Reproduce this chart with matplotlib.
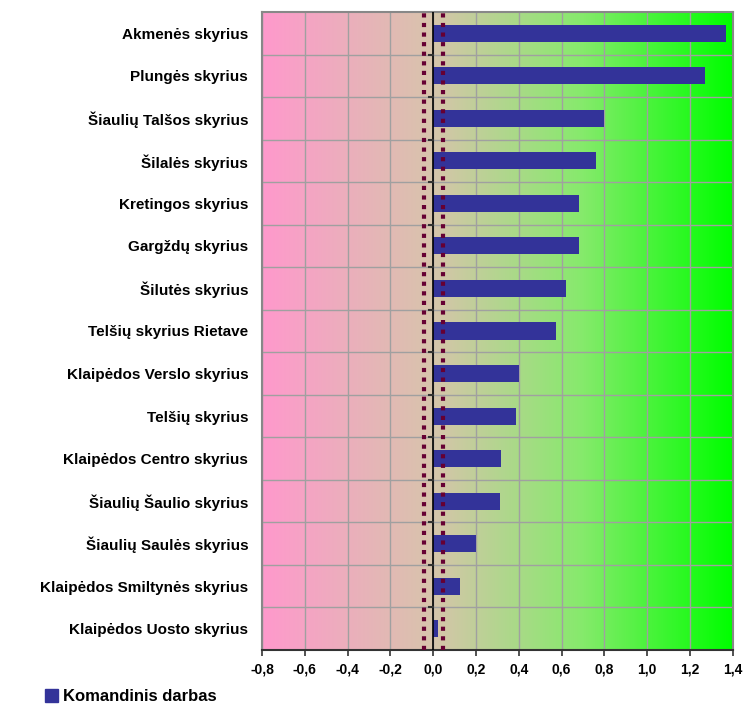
import numpy as np
import matplotlib.pyplot as plt
from matplotlib.colors import LinearSegmentedColormap
from matplotlib.patches import Patch

plt.rcParams['font.family'] = ['Liberation Sans', 'DejaVu Sans']

# Skyriai (iš viršaus į apačią) ir jų rodikliai
skyriai = [
    "Akmenės skyrius",
    "Plungės skyrius",
    "Šiaulių Talšos skyrius",
    "Šilalės skyrius",
    "Kretingos skyrius",
    "Gargždų skyrius",
    "Šilutės skyrius",
    "Telšių skyrius Rietave",
    "Klaipėdos Verslo skyrius",
    "Telšių skyrius",
    "Klaipėdos Centro skyrius",
    "Šiaulių Šaulio skyrius",
    "Šiaulių Saulės skyrius",
    "Klaipėdos Smiltynės skyrius",
    "Klaipėdos Uosto skyrius",
]
komandinis = [1.37, 1.27, 0.80, 0.76, 0.68, 0.68, 0.62, 0.575,
              0.40, 0.385, 0.315, 0.31, 0.20, 0.125, 0.02]
ribos = [-0.045, 0.045]
x_ticks = [-0.8, -0.6, -0.4, -0.2, 0.0, 0.2, 0.4, 0.6, 0.8, 1.0, 1.2, 1.4]
x_zymes = ["-0,8", "-0,6", "-0,4", "-0,2", "0,0", "0,2", "0,4", "0,6",
           "0,8", "1,0", "1,2", "1,4"]

fig = plt.figure(figsize=(7.45, 7.05), dpi=100)
ax = fig.add_axes([0.3517, 0.078, 0.632, 0.905])

n = len(skyriai)
y = np.arange(n)[::-1]

# fonas - gradientas nuo rožinės iki žalios
cmap = LinearSegmentedColormap.from_list(
    "fonas", [(0.0, "#ff99cc"), (0.36, "#d8c4ac"), (0.68, "#86ea6c"), (1.0, "#00ff00")])
grad = np.linspace(0, 1, 512).reshape(1, -1)
ax.imshow(grad, cmap=cmap, aspect="auto", extent=[-0.8, 1.4, -0.5, n - 0.5],
          zorder=0)

ax.set_xlim(-0.8, 1.4)
ax.set_ylim(-0.5, n - 0.5)

# tinklelis
for xt in x_ticks:
    ax.axvline(xt, color="#a0a0a0", lw=1.0, zorder=1)
for b in np.arange(n - 1) + 0.5:
    ax.axhline(b, color="#a0a0a0", lw=1.0, zorder=1)

ax.barh(y, komandinis, height=0.4, color="#333399", zorder=3)

ax.axvline(0, color="black", lw=1.2, zorder=4)
for r in ribos:
    ax.axvline(r, color="#660033", lw=3, ls=(0, (1, 1.3)),
               dash_capstyle="butt", zorder=5)

# trumpos žymos ties nuline ašimi
for b in np.arange(n - 1) + 0.5:
    ax.plot([-0.02, 0], [b, b], color="#333333", lw=1.5, zorder=4)

ax.set_yticks(y)
ax.set_yticklabels(skyriai, fontsize=11, fontweight="bold")
ax.tick_params(axis="y", length=0, pad=10)
ax.set_xticks(x_ticks)
ax.set_xticklabels(x_zymes, fontsize=10, fontweight="bold")
ax.tick_params(axis="x", length=4, width=1.2, color="#333333", pad=5)

for s in ["top", "right", "left"]:
    ax.spines[s].set_color("#888888")
    ax.spines[s].set_linewidth(1.5)
ax.spines["bottom"].set_color("#333333")
ax.spines["bottom"].set_linewidth(1.5)

fig.legend(handles=[Patch(color="#333399", label="Komandinis darbas")],
           loc="lower left", bbox_to_anchor=(0.04, -0.02), frameon=False,
           prop={"weight": "bold", "size": 12}, handlelength=0.8,
           handleheight=0.8, handletextpad=0.3)

fig.savefig("out.png", dpi=100)
